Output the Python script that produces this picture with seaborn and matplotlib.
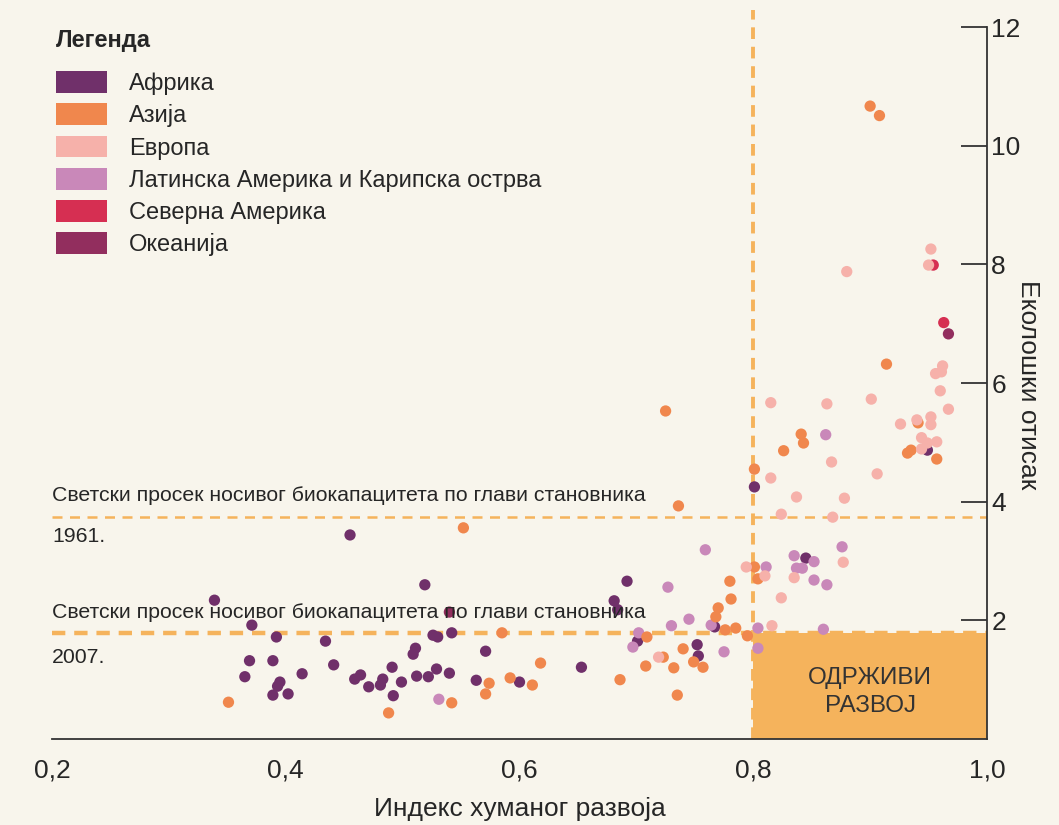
import numpy as np
import pandas as pd
import matplotlib
matplotlib.use("Agg")
import matplotlib.pyplot as plt
import seaborn as sns
from matplotlib.patches import Patch, Rectangle
from matplotlib import font_manager as fm
from matplotlib.ticker import FuncFormatter

# ---------------- data ----------------
regions = ["Африка", "Азија", "Европа",
           "Латинска Америка и Карипска острва", "Северна Америка", "Океанија"]
region_colors = ["#70306a", "#f0874d", "#f6b1aa", "#c988b9", "#d62f52", "#922e5e"]

africa_hdi = [0.339, 0.455, 0.519, 0.371, 0.392, 0.434, 0.369, 0.389, 0.365, 0.414,
              0.441, 0.395, 0.393, 0.389, 0.402, 0.459, 0.464, 0.471, 0.481, 0.483,
              0.491, 0.499, 0.492, 0.509, 0.511, 0.512, 0.522, 0.529, 0.526, 0.530,
              0.542, 0.571, 0.540, 0.563, 0.600, 0.653, 0.692, 0.681, 0.684, 0.701,
              0.752, 0.753, 0.767, 0.801, 0.845, 0.949]
africa_fp = [2.34, 3.44, 2.60, 1.92, 1.72, 1.65, 1.32, 1.32, 1.05, 1.10,
             1.25, 0.96, 0.89, 0.74, 0.76, 1.01, 1.08, 0.88, 0.91, 1.01,
             1.21, 0.96, 0.73, 1.43, 1.53, 1.06, 1.05, 1.18, 1.75, 1.72,
             1.79, 1.48, 1.11, 0.99, 0.96, 1.21, 2.66, 2.33, 2.18, 1.65,
             1.59, 1.40, 1.89, 4.25, 3.05, 4.87]

asia_hdi = [0.351, 0.488, 0.552, 0.585, 0.618, 0.592, 0.574, 0.611, 0.571, 0.542,
            0.686, 0.725, 0.736, 0.709, 0.708, 0.723, 0.740, 0.732, 0.735, 0.749,
            0.757, 0.768, 0.770, 0.781, 0.780, 0.776, 0.785, 0.795, 0.801, 0.804,
            0.801, 0.841, 0.843, 0.826, 0.941, 0.932, 0.935, 0.957, 0.914, 0.900,
            0.908]
asia_fp = [0.62, 0.44, 3.56, 1.79, 1.28, 1.03, 0.94, 0.91, 0.76, 0.61,
           1.00, 5.53, 3.93, 1.72, 1.23, 1.38, 1.52, 1.20, 0.74, 1.30,
           1.21, 2.06, 2.21, 2.36, 2.66, 1.84, 1.87, 1.74, 2.90, 2.70,
           4.55, 5.14, 4.99, 4.86, 5.33, 4.82, 4.87, 4.72, 6.32, 10.67,
           10.51]

europe_hdi = [0.719, 0.794, 0.810, 0.816, 0.824, 0.835, 0.877, 0.824, 0.868, 0.837,
              0.878, 0.815, 0.906, 0.867, 0.815, 0.863, 0.901, 0.960, 0.967, 0.926,
              0.940, 0.952, 0.952, 0.944, 0.949, 0.957, 0.944, 0.956, 0.961, 0.962,
              0.880, 0.950, 0.952]
europe_fp = [1.38, 2.90, 2.75, 1.91, 2.38, 2.72, 2.98, 3.79, 3.74, 4.08,
             4.06, 4.40, 4.47, 4.67, 5.67, 5.65, 5.73, 5.87, 5.56, 5.31,
             5.38, 5.43, 5.30, 5.08, 4.99, 5.01, 4.89, 6.16, 6.19, 6.29,
             7.88, 7.99, 8.26]

latam_hdi = [0.531, 0.759, 0.727, 0.745, 0.730, 0.702, 0.697, 0.775, 0.764, 0.811,
             0.804, 0.804, 0.835, 0.837, 0.842, 0.852, 0.852, 0.863, 0.876, 0.862,
             0.860]
latam_fp = [0.67, 3.19, 2.56, 2.02, 1.91, 1.79, 1.55, 1.47, 1.92, 2.90,
            1.87, 1.53, 3.09, 2.88, 2.88, 2.99, 2.68, 2.60, 3.24, 5.13,
            1.85]

namerica_hdi = [0.954, 0.963]
namerica_fp = [7.99, 7.02]

oceania_hdi = [0.540, 0.967]
oceania_fp = [2.14, 6.83]

biocapacity_1961 = 3.75
biocapacity_2007 = 1.78
sustainable_hdi = 0.8

x_ticks = [0.2, 0.4, 0.6, 0.8, 1.0]
y_ticks = [2, 4, 6, 8, 10, 12]

# ---------------- fonts ----------------
available = {f.name for f in fm.fontManager.ttflist}
regular = "Liberation Sans" if "Liberation Sans" in available else "DejaVu Sans"

sns.set_style("white")
plt.rcParams["font.family"] = [regular, "DejaVu Sans"]

BG = "#f8f5ec"
TXT = "#262626"
LINE_ORANGE = "#f5b35c"

# ---------------- dataframe ----------------
order = ["Северна Америка", "Океанија", "Африка",
         "Латинска Америка и Карипска острва", "Азија", "Европа"]
series = {
    "Африка": (africa_hdi, africa_fp),
    "Азија": (asia_hdi, asia_fp),
    "Европа": (europe_hdi, europe_fp),
    "Латинска Америка и Карипска острва": (latam_hdi, latam_fp),
    "Северна Америка": (namerica_hdi, namerica_fp),
    "Океанија": (oceania_hdi, oceania_fp),
}
frames = []
for r in order:
    h, f = series[r]
    frames.append(pd.DataFrame({"hdi": h, "fp": f, "region": r}))
df = pd.concat(frames, ignore_index=True)
palette = dict(zip(regions, region_colors))

# ---------------- figure ----------------
fig = plt.figure(figsize=(10.59, 8.25), dpi=100, facecolor=BG)
ax = fig.add_axes([52 / 1059, 1 - 739 / 825, 935 / 1059, 729 / 825])
ax.set_facecolor(BG)

# sustainable development box
ax.add_patch(Rectangle((sustainable_hdi, 0), 1.0 - sustainable_hdi, biocapacity_2007,
                       facecolor=LINE_ORANGE, edgecolor="none", zorder=1))
ax.text(0.9, 0.80, "ОДРЖИВИ\nРАЗВОЈ", ha="center", va="center", fontsize=17.5,
        color="#333333", linespacing=1.35, zorder=2)

# reference lines
ax.axhline(biocapacity_1961, color=LINE_ORANGE, lw=1.8, ls=(0, (4, 3)), zorder=1)
ax.axhline(biocapacity_2007, color=LINE_ORANGE, lw=3.2, ls=(0, (3, 2)), zorder=1)
ax.axvline(sustainable_hdi, color=LINE_ORANGE, lw=2.8, ls=(0, (3, 2)), zorder=1)

sns.scatterplot(data=df, x="hdi", y="fp", hue="region", palette=palette,
                s=66, linewidth=0, edgecolor="none", alpha=1.0,
                legend=False, ax=ax, zorder=3)

# annotations
ann = "Светски просек носивог биокапацитета по глави становника"
AFS = 15.3
ax.text(0.2, 4.10, ann, fontsize=AFS, color=TXT, va="center", ha="left", zorder=4)
ax.text(0.2, 3.42, "1961.", fontsize=AFS, color=TXT, va="center", ha="left", zorder=4)
ax.text(0.2, 2.14, ann, fontsize=AFS, color=TXT, va="center", ha="left", zorder=4)
ax.text(0.2, 1.38, "2007.", fontsize=AFS, color=TXT, va="center", ha="left", zorder=4)

# axes styling
ax.set_xlim(0.2, 1.0)
ax.set_ylim(0, 12.29)
for s in ["top", "left"]:
    ax.spines[s].set_visible(False)
ax.spines["right"].set_bounds(0, 12)
ax.spines["bottom"].set_bounds(0.2, 1.0)
for s in ["right", "bottom"]:
    ax.spines[s].set_color("#333333")
    ax.spines[s].set_linewidth(1.3)

ax.yaxis.tick_right()
ax.yaxis.set_label_position("right")
ax.set_xticks(x_ticks)
ax.set_yticks(y_ticks)
ax.xaxis.set_major_formatter(FuncFormatter(lambda v, p: f"{v:.1f}".replace(".", ",")))
ax.yaxis.set_major_formatter(FuncFormatter(lambda v, p: f"{int(v)}"))
ax.tick_params(axis="x", direction="in", length=12, width=1.3, color="#333333",
               pad=14, labelsize=19, labelcolor=TXT)
ax.tick_params(axis="y", direction="in", length=19, width=1.3, color="#333333",
               pad=3, labelsize=19, labelcolor=TXT, right=True, left=False)

ax.set_xlabel("Индекс хуманог развоја", fontsize=19, color=TXT)
ax.set_ylabel("Еколошки отисак", fontsize=19, color=TXT, rotation=270)
ax.yaxis.set_label_coords(1.057, 0.486)
ax.xaxis.set_label_coords(0.5, -0.079)

# legend
fig.text(56 / 1059, 1 - 41 / 825, "Легенда", fontsize=17, fontweight="bold",
         color=TXT, ha="left", va="center")
handles = [Patch(facecolor=c, edgecolor="none", label=r) for r, c in zip(regions, region_colors)]
leg = fig.legend(handles=handles, loc="upper left",
                 bbox_to_anchor=(56 / 1059, 1 - 71 / 825), bbox_transform=fig.transFigure,
                 frameon=False, fontsize=17,
                 handlelength=2.16, handleheight=1.05, labelspacing=0.35,
                 handletextpad=0.93, borderaxespad=0.0, borderpad=0.0)
for t in leg.get_texts():
    t.set_color(TXT)

fig.savefig("out.png", dpi=100, facecolor=BG)
